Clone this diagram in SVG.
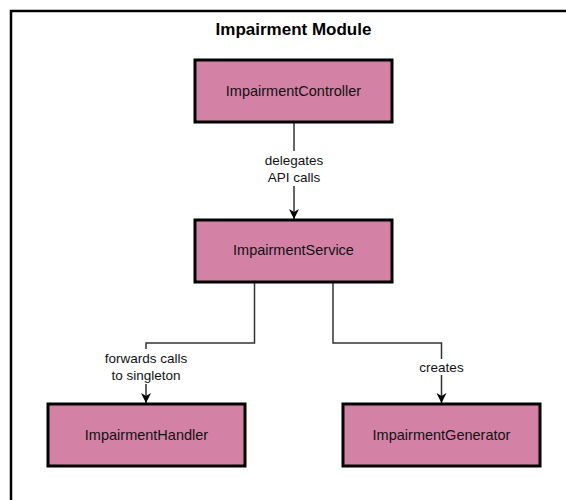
<svg xmlns="http://www.w3.org/2000/svg" width="566" height="500" viewBox="0 0 566 500">
  <defs>
    <marker id="arrow" viewBox="0 0 10 10" refX="10" refY="5" markerWidth="10" markerHeight="10" markerUnits="userSpaceOnUse" orient="auto">
      <path d="M0,0 L10,5 L0,10 L3,5 Z" fill="#000"/>
    </marker>
  </defs>
  <style>
    .node rect { fill: #d481a6; stroke: #000; stroke-width: 3; }
    .node text { font-family: "Liberation Sans", Arial, sans-serif; font-size: 14.5px; fill: #111; text-anchor: middle; dominant-baseline: central; }
    .edge { fill: none; stroke: #333; stroke-width: 1.5; }
    .elabel { font-family: "Liberation Sans", Arial, sans-serif; font-size: 13.5px; fill: #111; text-anchor: middle; dominant-baseline: central; }
    .lblbg { fill: #fff; }
  </style>
  <rect x="0" y="0" width="566" height="500" fill="#fff"/>
  <g id="container">
    <rect x="11" y="11" width="620" height="560" fill="#fff" stroke="#000" stroke-width="2.5"/>
    <text x="293.5" y="29" font-family="Liberation Sans, Arial, sans-serif" font-size="17" font-weight="bold" text-anchor="middle" dominant-baseline="central" fill="#000">Impairment Module</text>
  </g>
  <g id="connectors">
    <path class="edge" d="M294,122 L294,219" marker-end="url(#arrow)"/>
    <rect class="lblbg" x="262" y="151" width="64" height="35"/>
    <text class="elabel" x="294" y="160">delegates</text>
    <text class="elabel" x="294" y="177">API calls</text>

    <path class="edge" d="M254.5,282 L254.5,343 L146,343 L146,403" marker-end="url(#arrow)"/>
    <rect class="lblbg" x="103" y="349" width="86" height="35"/>
    <text class="elabel" x="146" y="358">forwards calls</text>
    <text class="elabel" x="146" y="375">to singleton</text>

    <path class="edge" d="M333,282 L333,343 L441.5,343 L441.5,403" marker-end="url(#arrow)"/>
    <rect class="lblbg" x="417" y="359" width="49" height="16"/>
    <text class="elabel" x="441.5" y="367">creates</text>
  </g>
  <g id="ImpairmentController" class="node">
    <rect x="195" y="60" width="197" height="62"/>
    <text x="293.5" y="91">ImpairmentController</text>
  </g>
  <g id="ImpairmentService" class="node">
    <rect x="195" y="220" width="197" height="62"/>
    <text x="293.5" y="250">ImpairmentService</text>
  </g>
  <g id="ImpairmentHandler" class="node">
    <rect x="48" y="404" width="197" height="62"/>
    <text x="146.5" y="435">ImpairmentHandler</text>
  </g>
  <g id="ImpairmentGenerator" class="node">
    <rect x="343" y="404" width="197" height="62"/>
    <text x="441.5" y="435">ImpairmentGenerator</text>
  </g>
</svg>
